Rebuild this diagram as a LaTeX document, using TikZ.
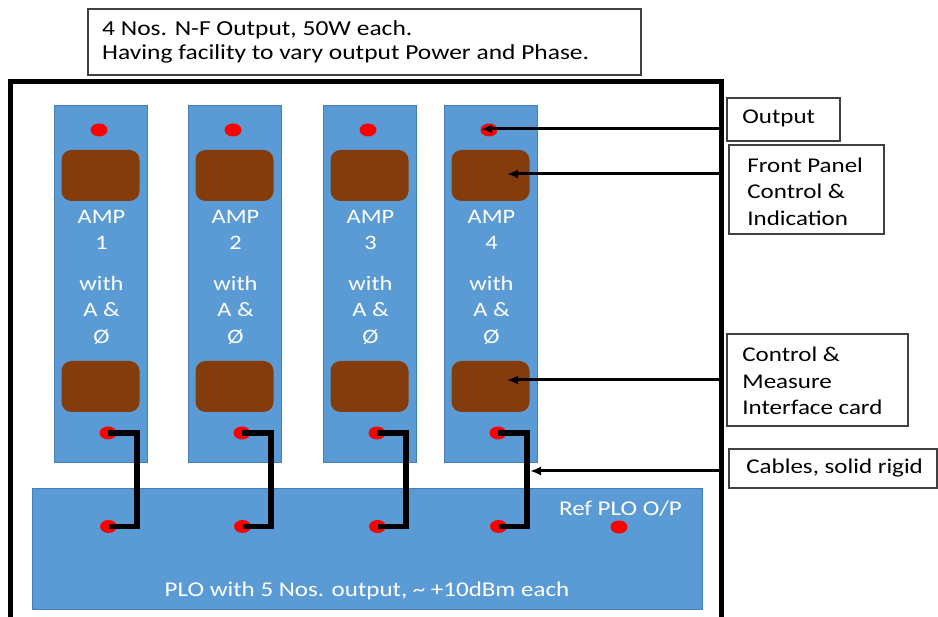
\documentclass[tikz,border=0pt]{standalone}
\usepackage{fontspec}
\setmainfont{Carlito}[FakeStretch=1.19]
\usetikzlibrary{arrows.meta,calc,shapes.geometric}
\definecolor{ampblue}{RGB}{91,155,213}
\definecolor{ampedge}{RGB}{70,125,180}
\definecolor{panelbrown}{RGB}{132,60,12}
\definecolor{dotred}{RGB}{255,0,0}
\definecolor{lboxedge}{RGB}{64,64,64}
\tikzset{
  ampbox/.style={rectangle, fill=ampblue, draw=ampedge, line width=0.6pt, minimum width=93pt, minimum height=356.5pt, inner sep=0pt},
  brownpanel/.style={rectangle, rounded corners=10pt, fill=panelbrown, minimum width=78pt, minimum height=51pt, inner sep=0pt},
  reddot/.style={ellipse, fill=dotred, minimum width=17pt, minimum height=13pt, inner sep=0pt},
  amptext/.style={text=white, align=center, font=\fontsize{20.5}{26.5}\selectfont, inner sep=0pt},
  lbox/.style={rectangle, draw=lboxedge, fill=white, line width=1.6pt, inner sep=0pt},
  ltext/.style={text=black, align=left, font=\fontsize{21}{26.5}\selectfont, inner sep=0pt, anchor=west},
  toptext/.style={text=black, font=\fontsize{21.4}{24}\selectfont, inner sep=0pt, anchor=base west},
  cable/.style={line width=5.5pt, black},
  arr/.style={line width=3pt, black, -{Latex[length=11pt,width=9pt]}},
}
\begin{document}
\begin{tikzpicture}[x=1pt,y=-1pt]
\useasboundingbox (0,0) rectangle (938,617);

% top description box
\node[lbox, minimum width=553pt, minimum height=66pt] (topbox) at (364.5,42) {};
\node[toptext] (topl1) at (102,36) {4 Nos. N-F Output, 50W each.};
\node[toptext] (topl2) at (102,60) {Having facility to vary output Power and Phase.};

% outer frame
\node[draw=black, line width=5pt, minimum width=711.5pt, minimum height=560pt, anchor=north west, outer sep=0pt, inner sep=0pt] (frame) at (10,81.5) {};

% PLO board
\node[rectangle, fill=ampblue, draw=ampedge, line width=0.6pt, minimum width=670pt, minimum height=121pt, inner sep=0pt] (plo) at (367,548.5) {};
\node[text=white, font=\fontsize{21}{26.5}\selectfont, inner sep=0pt] (plotxt) at (367,591) {PLO with 5 Nos. output, \textasciitilde{} +10dBm each};
\node[text=white, font=\fontsize{21}{26.5}\selectfont, inner sep=0pt] (reftxt) at (620.5,509) {Ref PLO O/P};
\node[reddot] (rd) at (619,527) {};

% amplifier modules
\foreach \i/\cx in {1/100.5, 2/234.5, 3/369.5, 4/490.5}{
  \node[ampbox] (amp\i) at (\cx,283.75) {};
  \node[reddot] (td\i) at (\cx-1.5,130) {};
  \node[brownpanel] (fp\i) at (\cx,175.5) {};
  \node[brownpanel] (ci\i) at (\cx,386.5) {};
  \node[reddot] (bd\i) at (\cx+7.5,433) {};
  \node[reddot] (pd\i) at (\cx+8,526.5) {};
  \node[amptext, anchor=north] (at\i) at (\cx+1,210) {AMP\\\i\\[14pt]with\\A \&\\Ø};
  \draw[cable] (bd\i.center) -- ([xshift=29pt]bd\i.center) |- (pd\i.center);
}

% right-hand labels
\node[lbox, minimum width=113pt, minimum height=43pt] (outbox) at (783.5,119.5) {};
\node[ltext] (outtxt) at ([xshift=16pt,yshift=1.5pt]outbox.west) {Output};
\node[lbox, minimum width=155pt, minimum height=89pt] (fpbox) at (806.5,189.5) {};
\node[ltext] (fptxt) at ([xshift=19pt,yshift=-2pt]fpbox.west) {Front Panel\\Control \&\\Indication};
\node[lbox, minimum width=181pt, minimum height=92pt] (cibox) at (817.5,380) {};
\node[ltext] (citxt) at ([xshift=16pt,yshift=-1pt]cibox.west) {Control \&\\Measure\\Interface card};
\node[lbox, minimum width=208pt, minimum height=39pt] (cabbox) at (833,468.5) {};
\node[ltext] (cabtxt) at ([xshift=18pt]cabbox.west) {Cables, solid rigid};

% pointer arrows
\coordinate (outhit) at (481,129);
\coordinate (fphit) at (507,174);
\coordinate (cihit) at (507,380);
\coordinate (cabhit) at (530,471);
\draw[arr] (frame.east |- outhit) -- (outhit);
\draw[arr] (frame.east |- fphit) -- (fphit);
\draw[arr] (frame.east |- cihit) -- (cihit);
\draw[arr] (frame.east |- cabhit) -- (cabhit);
\end{tikzpicture}
\end{document}
